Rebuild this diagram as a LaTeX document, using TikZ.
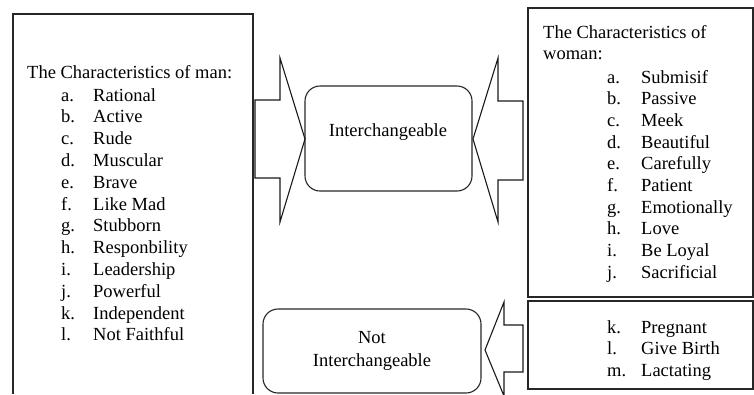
\documentclass[tikz,border=0pt]{standalone}
\usepackage{fontspec}
\setmainfont{Liberation Serif}
\begin{document}
\begin{tikzpicture}[x=1pt,y=-1pt,
  txt/.style={inner sep=0pt, anchor=base west, font=\fontsize{18.5}{21.8}\selectfont},
  ctxt/.style={inner sep=0pt, anchor=base, font=\fontsize{18.5}{21.8}\selectfont},
  boxline/.style={draw=black!85, line width=1.3pt},
  arrowline/.style={draw=black!90, line width=1.1pt, line join=miter},
  roundbox/.style={draw=black!85, line width=1.1pt, rounded corners=15pt}]
\useasboundingbox (0,0) rectangle (754,394);
% left box (open at bottom)
\draw[boxline] (13,394) |- (253,14) -- (253,394);
% right boxes
\draw[boxline] (528,8) rectangle (753,297);
\draw[boxline] (528,301) rectangle (753,389);
% rounded boxes
\draw[roundbox] (305,86) rectangle (472,191);
\draw[roundbox] (263,309) rectangle (481,393);
\node[ctxt] (inter) at (388,136) {Interchangeable};
\node[ctxt] (notA) at (372,343) {Not};
\node[ctxt] (notB) at (372,366) {Interchangeable};
% block arrows
\draw[arrowline] (255,100) -- (280,100) -- (280,58) -- (305,139) -- (280,222) -- (280,178) -- (255,178) -- cycle;
\draw[arrowline] (523,101) -- (498,101) -- (498,58) -- (473,139) -- (498,222) -- (498,180) -- (523,180) -- cycle;
\draw[arrowline] (523,325) -- (504,325) -- (504,302) -- (485,350) -- (504,396) -- (504,372) -- (523,372) -- cycle;
% left list
\node[txt] (mtitle) at (27,78) {The Characteristics of man:};
\foreach \l/\t [count=\i from 0] in {a./Rational,b./Active,c./Rude,d./Muscular,e./Brave,f./Like Mad,g./Stubborn,h./Responbility,i./Leadership,j./Powerful,k./Independent,l./Not Faithful}{
  \node[txt] (ml\i) at (61,101+21.8*\i) {\l};
  \node[txt] (mt\i) at (93,101+21.8*\i) {\t};
}
% right list
\node[txt] (wtitle1) at (543,38) {The Characteristics of};
\node[txt] (wtitle2) at (543,59) {woman:};
\foreach \l/\t [count=\i from 0] in {a./Submisif,b./Passive,c./Meek,d./Beautiful,e./Carefully,f./Patient,g./Emotionally,h./Love,i./Be Loyal,j./Sacrificial}{
  \node[txt] (wl\i) at (607,83+21.7*\i) {\l};
  \node[txt] (wt\i) at (641,83+21.7*\i) {\t};
}
\foreach \l/\t [count=\i from 0] in {k./Pregnant,l./Give Birth,m./Lactating}{
  \node[txt] (xl\i) at (607,333+21.5*\i) {\l};
  \node[txt] (xt\i) at (641,333+21.5*\i) {\t};
}
\end{tikzpicture}
\end{document}
